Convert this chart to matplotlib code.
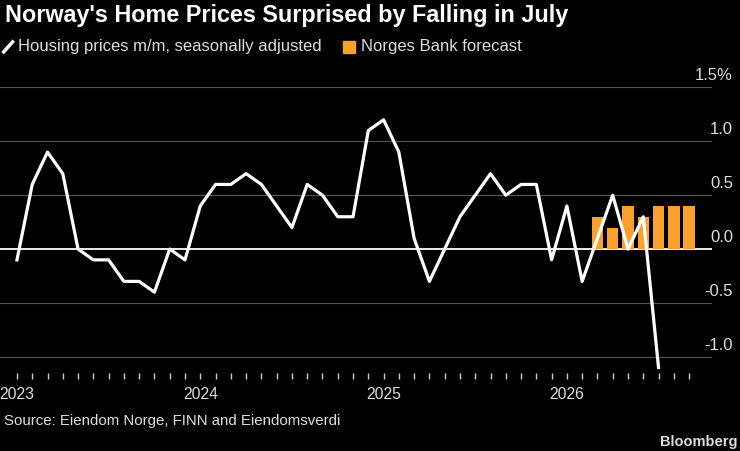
import matplotlib
matplotlib.use("Agg")
import matplotlib.pyplot as plt
import matplotlib.transforms as mtrans
import numpy as np

line_vals = [-0.1, 0.6, 0.9, 0.7, 0.0, -0.1, -0.1, -0.3, -0.3, -0.4, 0.0, -0.1,
             0.4, 0.6, 0.6, 0.7, 0.6, 0.4, 0.2, 0.6, 0.5, 0.3, 0.3, 1.1,
             1.2, 0.9, 0.1, -0.3, 0.0, 0.3, 0.5, 0.7, 0.5, 0.6, 0.6, -0.1,
             0.4, -0.3, 0.1, 0.5, 0.0, 0.3, -1.1]
bar_months = [38, 39, 40, 41, 42, 43, 44]  # month index from Jan 2023
bar_vals = [0.3, 0.2, 0.4, 0.3, 0.4, 0.4, 0.4]
year_labels = ["2023", "2024", "2025", "2026"]
yticks = [-1.0, -0.5, 0.0, 0.5, 1.0, 1.5]
ytick_labels = ["-1.0", "-0.5", "0.0", "0.5", "1.0", "1.5%"]

plt.rcParams['font.family'] = ['Liberation Sans', 'DejaVu Sans']
fig = plt.figure(figsize=(7.4, 4.51), dpi=100, facecolor='black')
ax = fig.add_axes([0.0, 0.173, 712/740, 0.645], facecolor='black')

for y in yticks:
    ax.axhline(y, color='white' if y == 0 else '#555555', lw=1.3 if y == 0 else 0.8, zorder=1)
ax.bar(bar_months, bar_vals, width=0.75, color='#f9a12e', zorder=2)
ax.plot(np.arange(len(line_vals)), line_vals, color='white', lw=2.3, zorder=3)

ax.set_xlim(-1.11, 45.5)
ax.set_ylim(-1.15, 1.55)
ax.set_yticks([])
tr = mtrans.blended_transform_factory(ax.transAxes, ax.transData)
for y, lab in zip(yticks, ytick_labels):
    ax.text(733/712, y + 0.04, lab, transform=tr, ha='right', va='bottom',
            color='#dddddd', fontsize=12, clip_on=False)
ax.set_xticks([0, 12, 24, 36])
ax.set_xticklabels(year_labels)
ax.set_xticks(np.arange(0, 45), minor=True)
ax.tick_params(axis='x', which='both', colors='#cccccc', length=4, width=1, labelsize=11.3, pad=6,
               labelcolor='#dddddd')
for s in ax.spines.values():
    s.set_visible(False)

fig.text(0.007, 0.966, "Norway's Home Prices Surprised by Falling in July", color='white',
         fontsize=16.8, fontweight='bold', va='center')
fig.text(0.025, 0.897, "Housing prices m/m, seasonally adjusted", color='#dddddd', fontsize=12, va='center')
fig.lines.append(plt.Line2D([0.005, 0.017], [0.885, 0.907], color='white', lw=2.5, transform=fig.transFigure))
fig.patches.append(plt.Rectangle((0.464, 0.883), 0.016, 0.027, color='#f9a12e', transform=fig.transFigure))
fig.text(0.488, 0.897, "Norges Bank forecast", color='#dddddd', fontsize=12, va='center')
fig.text(0.005, 0.066, "Source: Eiendom Norge, FINN and Eiendomsverdi", color='#dddddd', fontsize=10.8, va='center')
fig.text(0.997, 0.02, "Bloomberg", color='#dddddd', fontsize=10.5, fontweight='bold', ha='right', va='center')
fig.savefig("out.png", dpi=100, facecolor='black')
